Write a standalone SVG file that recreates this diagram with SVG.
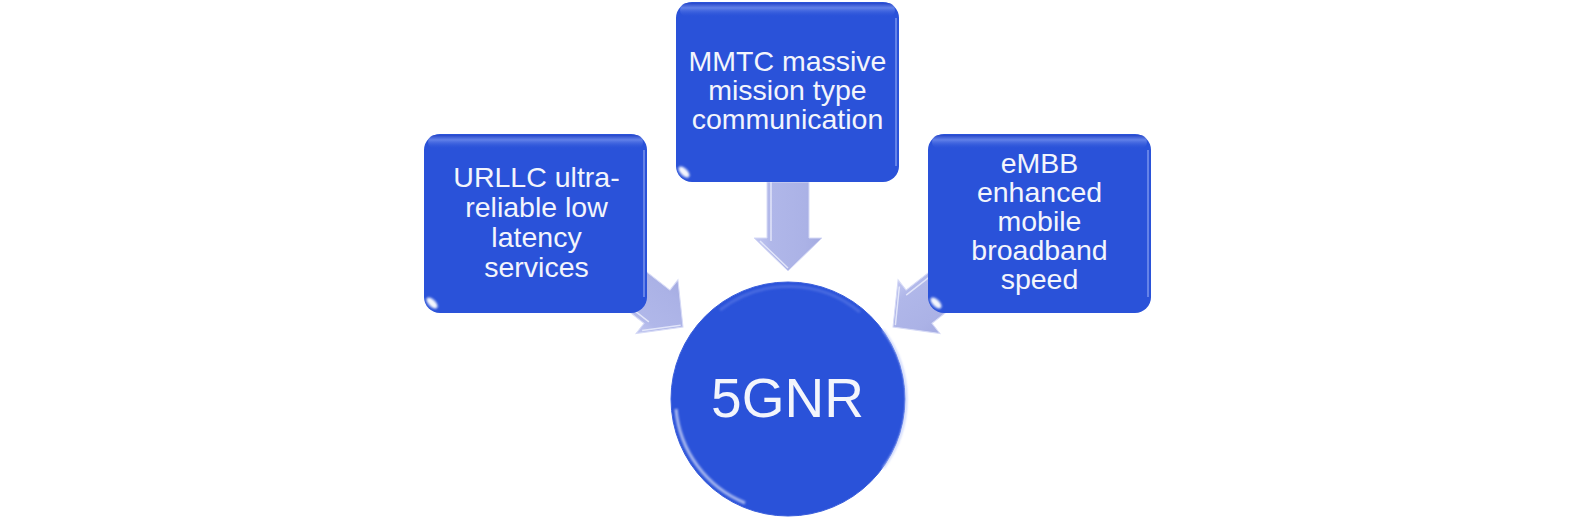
<svg xmlns="http://www.w3.org/2000/svg" xmlns:xlink="http://www.w3.org/1999/xlink" width="1576" height="519" viewBox="0 0 1576 519">
  <style>
    .box { fill: #2a52d9; }
    .lbl { font-family: "Liberation Sans", Arial, sans-serif; font-size: 28.5px; fill: #f3f5fc; text-anchor: middle; }
    .big { font-family: "Liberation Sans", Arial, sans-serif; font-size: 55px; fill: #f3f5fc; text-anchor: middle; }
    .arrow { fill: url(#arrowGrad); stroke: #d6daf6; stroke-width: 1; }
    .topHL { fill: url(#topGrad); }
    .glint { fill: #ffffff; opacity: 0.95; filter: url(#blur1); }
    .redge { fill: none; stroke: #8fa6f2; stroke-width: 1.5; opacity: 0.8; }
  </style>
  <defs>
    <linearGradient id="arrowGrad" x1="0" y1="0" x2="1" y2="0">
      <stop offset="0" stop-color="#c3c8f1"/>
      <stop offset="0.25" stop-color="#b0b7e9"/>
      <stop offset="0.75" stop-color="#abb2e6"/>
      <stop offset="1" stop-color="#a4abe1"/>
    </linearGradient>
    <linearGradient id="topGrad" x1="0" y1="0" x2="0" y2="1">
      <stop offset="0" stop-color="#2444c8" stop-opacity="0.9"/>
      <stop offset="0.35" stop-color="#6f8cec" stop-opacity="0.8"/>
      <stop offset="1" stop-color="#2a52d9" stop-opacity="0"/>
    </linearGradient>
    <filter id="blur1" x="-50%" y="-50%" width="200%" height="200%">
      <feGaussianBlur stdDeviation="1.2"/>
    </filter>
    <path id="arrow" d="M -21,-89 L 21,-89 L 21,-33 L 34,-33 L 0,0 L -34,-33 L -21,-33 Z"/>
  </defs>

  <rect width="1576" height="519" fill="#ffffff"/>

  <g id="connectors">
    <g transform="translate(788,271)">
      <use xlink:href="#arrow" class="arrow"/>
      <path d="M -17,-89 L -17,-30 M -28,-30 L 0,-3" stroke="#eef0fc" stroke-width="1.5" fill="none" opacity="0.8"/>
    </g>
    <g transform="translate(683,327) rotate(-52)">
      <use xlink:href="#arrow" class="arrow"/>
      <path d="M -17,-89 L -17,-30 M -28,-30 L 0,-3" stroke="#eef0fc" stroke-width="1.5" fill="none" opacity="0.8"/>
    </g>
    <g transform="translate(893,327) rotate(52)">
      <use xlink:href="#arrow" class="arrow"/>
      <path d="M -17,-89 L -17,-30 M -28,-30 L 0,-3" stroke="#eef0fc" stroke-width="1.5" fill="none" opacity="0.8"/>
    </g>
  </g>

  <g id="node-mmtc">
    <rect class="box" x="676" y="2" width="223" height="180" rx="16"/>
    <rect class="topHL" x="680" y="3" width="215" height="14" rx="7"/>
    <path class="redge" d="M 896,18 L 896,166"/>
    <ellipse class="glint" cx="684" cy="172" rx="3.5" ry="7" transform="rotate(-45 684 172)"/>
    <text class="lbl" x="787.5" y="71">MMTC massive</text>
    <text class="lbl" x="787.5" y="100">mission type</text>
    <text class="lbl" x="787.5" y="129">communication</text>
  </g>

  <g id="node-urllc">
    <rect class="box" x="424" y="134" width="223" height="179" rx="16"/>
    <rect class="topHL" x="428" y="135" width="215" height="14" rx="7"/>
    <path class="redge" d="M 644,150 L 644,297"/>
    <ellipse class="glint" cx="432" cy="303" rx="3.5" ry="7" transform="rotate(-45 432 303)"/>
    <text class="lbl" x="536.5" y="187">URLLC ultra-</text>
    <text class="lbl" x="536.5" y="217">reliable low</text>
    <text class="lbl" x="536.5" y="247">latency</text>
    <text class="lbl" x="536.5" y="277">services</text>
  </g>

  <g id="node-embb">
    <rect class="box" x="928" y="134" width="223" height="179" rx="16"/>
    <rect class="topHL" x="932" y="135" width="215" height="14" rx="7"/>
    <path class="redge" d="M 1148,150 L 1148,297"/>
    <ellipse class="glint" cx="936" cy="303" rx="3.5" ry="7" transform="rotate(-45 936 303)"/>
    <text class="lbl" x="1039.5" y="173">eMBB</text>
    <text class="lbl" x="1039.5" y="202">enhanced</text>
    <text class="lbl" x="1039.5" y="231">mobile</text>
    <text class="lbl" x="1039.5" y="260">broadband</text>
    <text class="lbl" x="1039.5" y="289">speed</text>
  </g>

  <g id="node-5gnr">
    <circle cx="788" cy="399" r="117" fill="#2a52d9" stroke="#3b5fdc" stroke-width="1"/>
    <path d="M 883,330 A 114,114 0 0 1 883,468" fill="none" stroke="#b9c7fa" stroke-width="2" opacity="0.85" filter="url(#blur1)"/>
    <path d="M 676,409 A 112,112 0 0 0 745,503" fill="none" stroke="#ffffff" stroke-width="3" opacity="0.6" filter="url(#blur1)"/>
    <path d="M 720,310 A 112,112 0 0 1 860,312" fill="none" stroke="#5d7ce6" stroke-width="3" opacity="0.6" filter="url(#blur1)"/>
    <text class="big" x="787.5" y="417">5GNR</text>
  </g>
</svg>
